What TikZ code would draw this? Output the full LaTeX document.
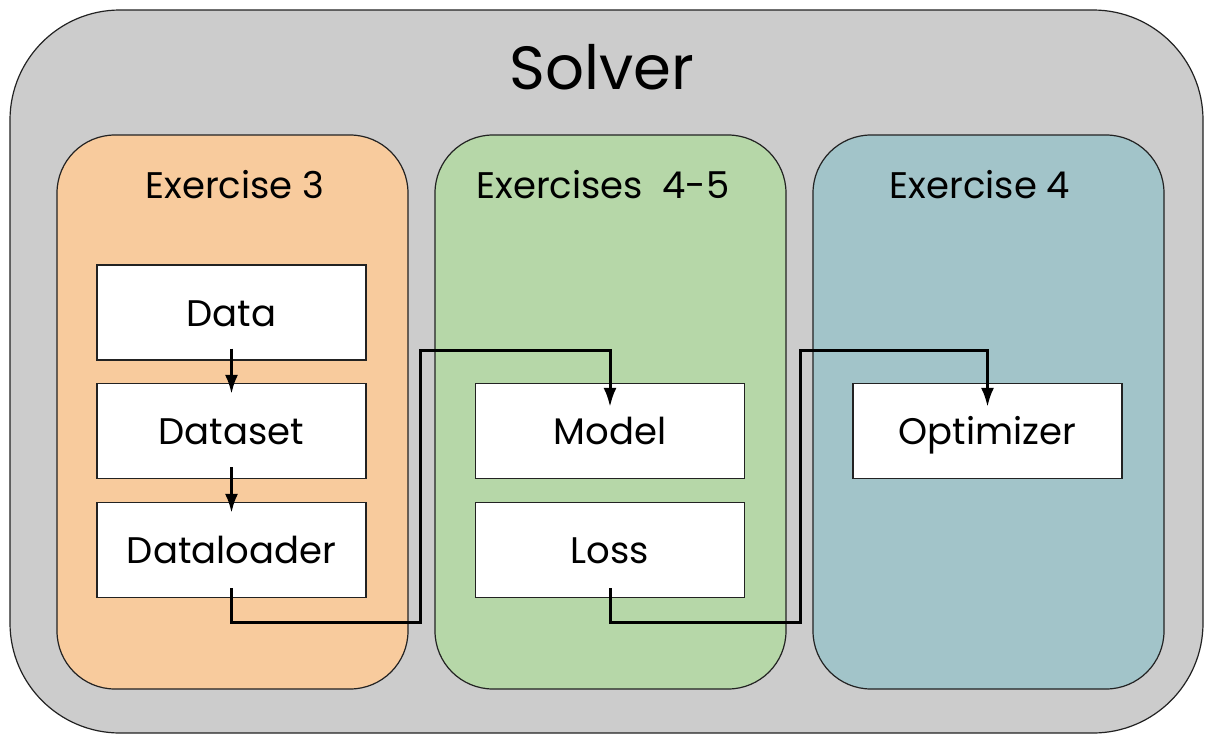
\documentclass[tikz,border=0pt]{standalone}
\usepackage{fontspec}
\setmainfont{Poppins}
\usetikzlibrary{arrows.meta}

\definecolor{solvergray}{HTML}{CCCCCC}
\definecolor{exorange}{HTML}{F8CB9D}
\definecolor{exgreen}{HTML}{B6D7A8}
\definecolor{exteal}{HTML}{A2C4C9}
\definecolor{edge}{HTML}{222222}

\begin{document}
\begin{tikzpicture}[x=1pt, y=-1pt,
    panel/.style={draw=edge, line width=1.2pt, rounded corners=58pt, inner sep=0pt,
        minimum width=351pt, minimum height=554pt},
    blk/.style={draw=edge, fill=white, line width=1.2pt, inner sep=0pt,
        minimum width=269pt, minimum height=95pt, text height=27pt, text depth=0pt,
        font=\fontsize{37}{40}\selectfont},
    heading/.style={anchor=base, font=\fontsize{37}{40}\selectfont},
    arr/.style={line width=3pt, draw=black, -{Latex[length=19pt,width=13pt]}}]
    \useasboundingbox (0,0) rectangle (1205,734);
    % ==== SOLVER ====
    \node[draw=edge, line width=1.2pt, fill=solvergray, rounded corners=110pt, inner sep=0pt,
        minimum width=1193pt, minimum height=723pt] (solver) at (606.5,371.5) {};
    \node[anchor=base, font=\fontsize{61}{64}\selectfont] (solvertitle) at (602,89) {Solver};
    % ==== EXERCISE PANELS ====
    \node[panel, fill=exorange] (ex3) at (232.5,412) {};
    \node[panel, fill=exgreen] (ex45) at (610.5,412) {};
    \node[panel, fill=exteal] (ex4) at (988.5,412) {};
    \node[heading] (ex3title) at (235,198) {Exercise 3};
    \node[heading] (ex45title) at (603,198) {Exercises\ \ 4-5};
    \node[heading] (ex4title) at (980,198) {Exercise 4};
    % ==== BLOCKS ====
    \node[blk] (data) at (231.5,312.5) {Data};
    \node[blk] (dataset) at (231.5,431) {Dataset};
    \node[blk] (dataloader) at (231.5,550) {Dataloader};
    \node[blk] (model) at (610,431) {Model};
    \node[blk] (loss) at (610,550) {Loss};
    \node[blk] (optimizer) at (987.5,431) {Optimizer};
    % ==== CONNECTORS ====
    \coordinate (bendA) at (420,622);
    \coordinate (bendB) at (420,350);
    \coordinate (bendC) at (800,622);
    \coordinate (bendD) at (800,350);
    \draw[arr, shorten <=-12pt, shorten >=-11pt] (data) -- (dataset);
    \draw[arr, shorten <=-12pt, shorten >=-11pt] (dataset) -- (dataloader);
    \draw[arr, shorten <=-10pt, shorten >=-24pt] (dataloader.south) |- (bendA) -- (bendB) -| (model.north);
    \draw[arr, shorten <=-10pt, shorten >=-24pt] (loss.south) |- (bendC) -- (bendD) -| (optimizer.north);
\end{tikzpicture}
\end{document}
